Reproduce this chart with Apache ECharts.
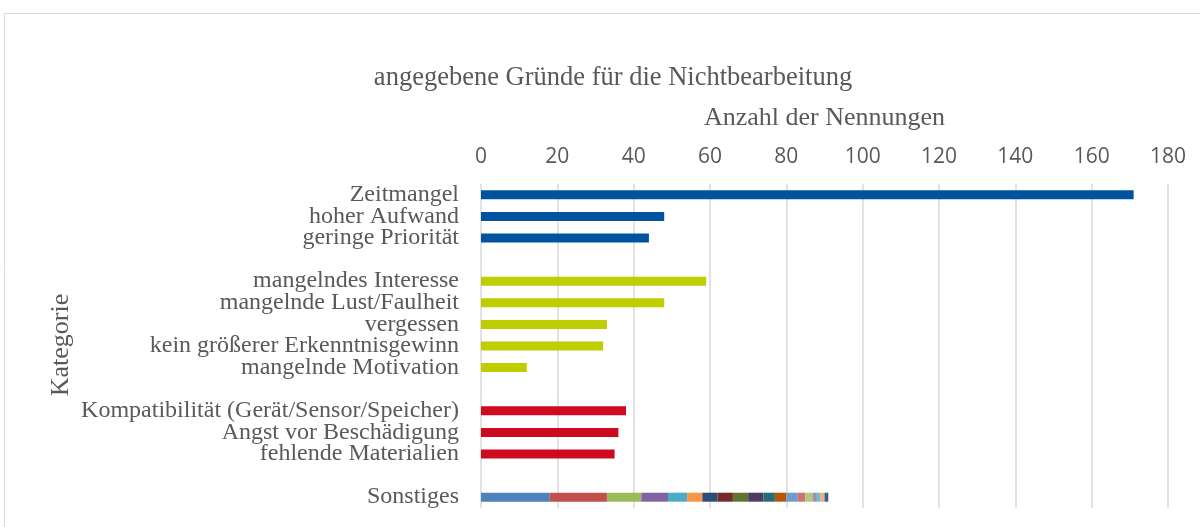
<!DOCTYPE html>
<html><head><meta charset="utf-8">
<script src="https://cdn.jsdelivr.net/npm/echarts@6/dist/echarts.min.js"></script>
<style>html,body{margin:0;padding:0;background:#fff}#c{width:1200px;height:527px}</style>
</head><body><div id="c"></div>
<script>
const categories = ['Zeitmangel','hoher Aufwand','geringe Priorität',' ',
  'mangelndes Interesse','mangelnde Lust/Faulheit','vergessen','kein größerer Erkenntnisgewinn','mangelnde Motivation','  ',
  'Kompatibilität (Gerät/Sensor/Speicher)','Angst vor Beschädigung','fehlende Materialien','   ','Sonstiges'];
const values = [171,48,44,'-',59,48,33,32,12,'-',38,36,35,'-','-'];
const groupColors = ['#00549F','#00549F','#00549F',null,'#BFCE00','#BFCE00','#BFCE00','#BFCE00','#BFCE00',null,'#CE0A20','#CE0A20','#CE0A20',null,null];
const sonstigesParts = [18,15,9,7,5,4,4,4,4,4,3,3,3,2,2,1,1,1,1];
const sonstigesColors = ['#4F81BD','#C0504D','#9BBB59','#8064A2','#4BACC6','#F79646','#2C4D75','#772C2A','#5F7530','#4D3B62','#276A7C','#B65708','#729ACA','#CD7371','#AFC97A','#A08CB5','#6FBDD1','#F9AB6B','#3A5F8F'];
const xTicks = {min:0,max:180,interval:20};

const serif = 'Liberation Serif, Times New Roman, serif';
const gray = '#595959';
const series = [{
  type:'bar', stack:'s', barWidth:9, silent:true,
  data: values.map((v,i)=>({value:v, itemStyle:{color:groupColors[i]||'#000'}}))
}];
sonstigesParts.forEach((p,k)=>{
  series.push({type:'bar', stack:'s', barWidth:9, silent:true,
    itemStyle:{color:sonstigesColors[k]},
    data: categories.map((c,i)=> c==='Sonstiges' ? p : '-')});
});
const chart = echarts.init(document.getElementById('c'));
chart.setOption({
  animation:false,
  grid:{left:481,right:32,top:184,bottom:19},
  graphic:[
    {type:'rect',shape:{x:4.5,y:13.5,width:1300,height:700},style:{fill:'none',stroke:'#d9d9d9',lineWidth:1}},
    {type:'text',x:613,y:78,style:{text:'angegebene Gründe für die Nichtbearbeitung',font:'26.5px '+serif,fill:gray,align:'center',verticalAlign:'middle'}},
    {type:'text',x:61,y:345,rotation:Math.PI/2,style:{text:'Kategorie',font:'26px '+serif,fill:gray,align:'center',verticalAlign:'middle'}}
  ],
  xAxis:{type:'value',position:'top',min:xTicks.min,max:xTicks.max,interval:xTicks.interval,
    name:'Anzahl der Nennungen',nameLocation:'middle',nameGap:53,
    nameTextStyle:{fontFamily:serif,fontSize:26,color:gray},
    axisLine:{show:false},axisTick:{show:false},
    axisLabel:{margin:16,fontFamily:'Open Sans',fontSize:21,color:gray},
    splitLine:{show:true,lineStyle:{color:'#d9d9d9',width:1.5}}},
  yAxis:{type:'category',inverse:true,data:categories,
    axisLine:{show:false},axisTick:{show:false},
    axisLabel:{margin:22,fontFamily:serif,fontSize:24,color:gray,interval:0,lineHeight:22}},
  series
});
</script></body></html>
